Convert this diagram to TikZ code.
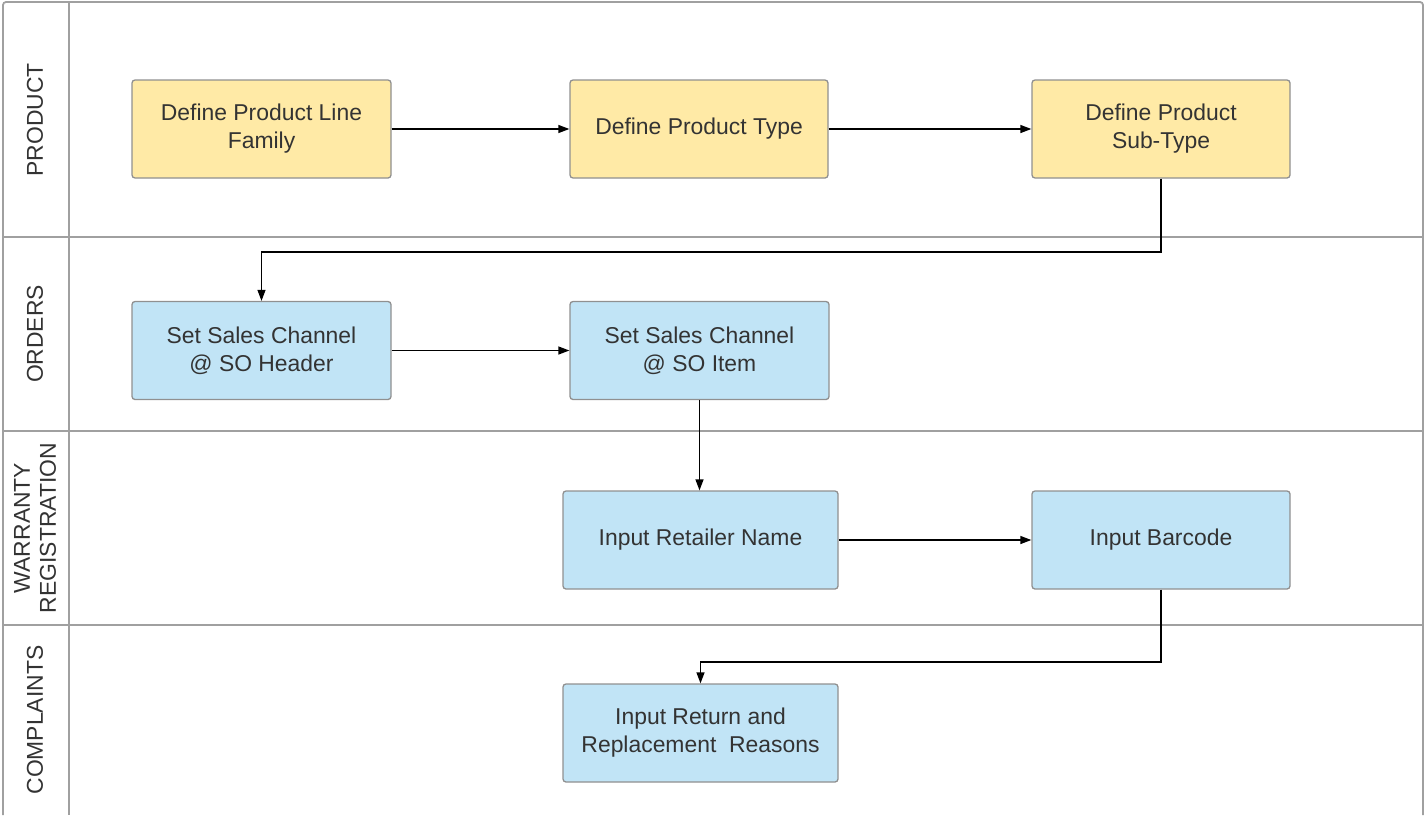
\documentclass[tikz,border=0pt]{standalone}
\usepackage{fontspec}
\setmainfont{Liberation Sans}
\usetikzlibrary{arrows.meta}
\definecolor{laneline}{HTML}{A0A0A0}
\definecolor{boxline}{HTML}{909090}
\definecolor{yfill}{HTML}{FFEAA6}
\definecolor{bfill}{HTML}{C1E4F6}
\definecolor{txt}{HTML}{333333}
\tikzset{
  proc/.style={draw=boxline, line width=1.3pt, rounded corners=3pt, minimum height=98pt, text=txt,
    font=\fontsize{22.9}{28}\selectfont, align=center, inner sep=0pt},
  yproc/.style={proc, fill=yfill},
  bproc/.style={proc, fill=bfill},
  lanelabel/.style={rotate=90, text=txt, font=\fontsize{22.9}{26}\selectfont, align=center},
  lane/.style={draw=laneline, line width=1.8pt},
  flow/.style={draw=black, line width=1.3pt, -{Triangle[length=11pt,width=8pt]}}
}
\begin{document}
\begin{tikzpicture}[x=1pt,y=-1pt]
\useasboundingbox (0,0) rectangle (1425,817);
% lanes
\draw[lane, rounded corners=3pt] (3,815) -- (3,2) -- (1423,2) -- (1423,815);
\draw[lane] (69,2) -- (69,815);
\draw[lane] (3,237) -- (1423,237);
\draw[lane] (3,431) -- (1423,431);
\draw[lane] (3,625) -- (1423,625);
\node[lanelabel] (lp) at (35,120) {PRODUCT};
\node[lanelabel] (lo) at (35,334) {ORDERS};
\node[lanelabel] (lw) at (35,528) {WARRANTY\\REGISTRATION};
\node[lanelabel] (lc) at (35,720) {COMPLAINTS};
% boxes
\node[yproc, minimum width=259pt] (a) at (261.5,129) {Define Product Line\\Family};
\node[yproc, minimum width=258pt] (b) at (699,129) {Define Product Type};
\node[yproc, minimum width=258pt] (c) at (1161,129) {Define Product\\Sub-Type};
\node[bproc, minimum width=259pt] (d) at (261.5,350.5) {Set Sales Channel\\@ SO Header};
\node[bproc, minimum width=259pt] (e) at (699.5,350.5) {Set Sales Channel\\@ SO Item};
\node[bproc, minimum width=275pt] (f) at (700.5,540) {Input Retailer Name};
\node[bproc, minimum width=258pt] (g) at (1161,540) {Input Barcode};
\node[bproc, minimum width=275pt] (h) at (700.5,733) {Input Return and\\Replacement\ \ Reasons};
% connectors
\draw[flow] (a) -- (b);
\draw[flow] (b) -- (c);
\draw[flow] (c.south) |- (261.5,252) -- (d.north);
\draw[flow] (d) -- (e);
\draw[flow] (e.south) -- (e.south |- f.north);
\draw[flow] (f) -- (g);
\draw[flow] (g.south) |- (700.5,662) -- (h.north);
\end{tikzpicture}
\end{document}
